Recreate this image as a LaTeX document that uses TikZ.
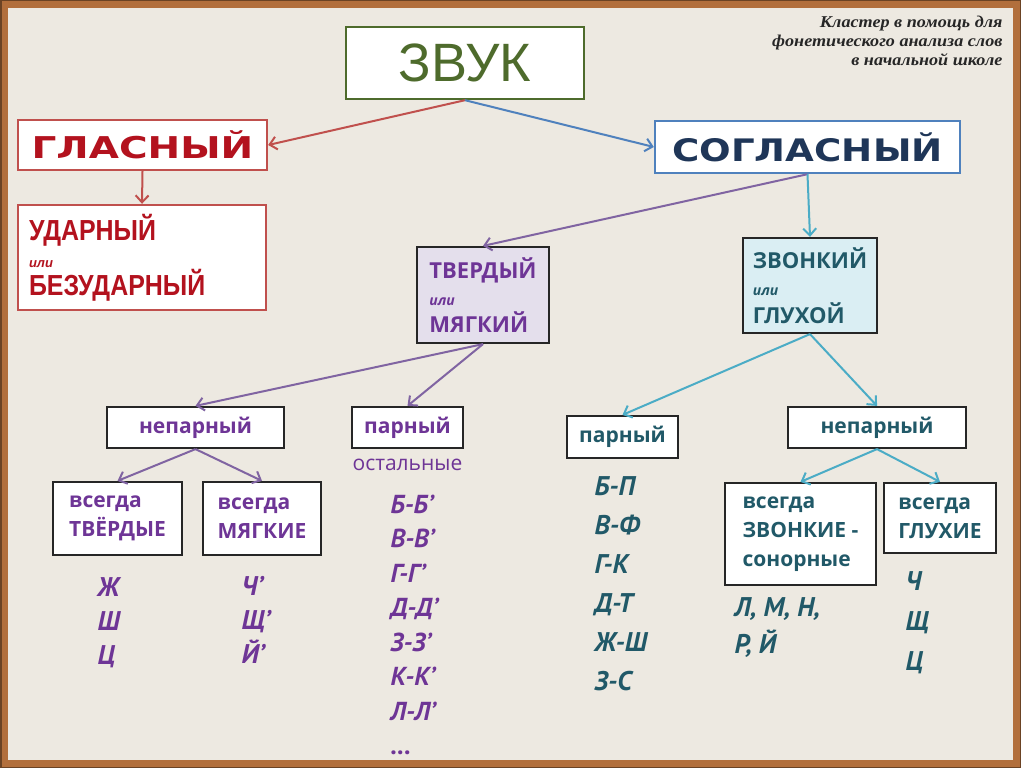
\documentclass[tikz,border=0pt]{standalone}
\usepackage{fontspec}
\usetikzlibrary{arrows.meta}
\setmainfont{Liberation Sans}
\newfontfamily\boxfont{Open Sans}
\newfontfamily\widefont{DejaVu Sans}
\newfontfamily\handfont{PT Sans}
\newfontfamily\notefont{Liberation Serif}

\definecolor{paper}{HTML}{EDE9E1}
\definecolor{frame}{HTML}{B26F3C}
\definecolor{zvukgreen}{HTML}{4E6B2C}
\definecolor{redline}{HTML}{C0504D}
\definecolor{redtext}{HTML}{B3121E}
\definecolor{blueline}{HTML}{4F81BD}
\definecolor{navy}{HTML}{1F3658}
\definecolor{purpline}{HTML}{8064A2}
\definecolor{purptext}{HTML}{6E3596}
\definecolor{lav}{HTML}{E4DFEC}
\definecolor{teal}{HTML}{4BACC6}
\definecolor{tealtext}{HTML}{215968}
\definecolor{ltblue}{HTML}{DAEEF3}

\newcommand\sx[2]{\scalebox{#1}[1]{#2}}
\newcommand\ili[1]{{\fontsize{#1}{10}\selectfont\bfseries\itshape или}}

\begin{document}
\begin{tikzpicture}[x=1pt,y=-1pt]
        \useasboundingbox (0,0) rectangle (1021,768);
        \fill[paper] (0,0) rectangle (1021,768);
        \draw[frame, line width=8pt] (4,4) rectangle (1017,764);
        \draw[frame!60!black, line width=1.5pt] (0.75,0.75) rectangle (1020.25,767.25);

        % top note
        \node[anchor=east, align=right, text=black!85,
              font=\notefont\bfseries\itshape\fontsize{16.5}{19}\selectfont] (note) at (1006,41)
          {\sx{1.1}{Кластер в помощь для}\\\sx{1.1}{фонетического анализа слов}\\\sx{1.1}{в начальной школе}};

        \begin{scope}[every node/.style={rectangle, draw, fill=white, inner sep=0pt, line width=2.4pt}]
          \node[draw=zvukgreen, minimum width=238pt, minimum height=72pt, text=zvukgreen,
                font=\fontsize{54}{54}\selectfont] (zvuk) at (465,63) {ЗВУК};
          \node[draw=redline, minimum width=249pt, minimum height=50pt, text=redtext,
                font=\widefont\bfseries\fontsize{30}{30}\selectfont] (glas) at (142.5,145) {\sx{1.3}{ГЛАСНЫЙ}};
          \node[draw=redline, minimum width=248pt, minimum height=105pt, text=redtext, align=left,
                inner xsep=11pt, text width=226pt,
                font=\bfseries\fontsize{29}{27.5}\selectfont] (udar) at (142,257.5)
            {\sx{0.86}{УДАРНЫЙ}\\ \ili{13}\\ \sx{0.86}{БЕЗУДАРНЫЙ}};
          \node[draw=blueline, minimum width=305pt, minimum height=52pt, text=navy,
                font=\widefont\bfseries\fontsize{31}{31}\selectfont] (sogl) at (807.5,147) {\sx{1.2}{СОГЛАСНЫЙ}};
        \end{scope}

        \begin{scope}[every node/.style={rectangle, draw=black!85, fill=white, inner sep=0pt, line width=2.2pt,
                        font=\boxfont\bfseries\fontsize{21}{29}\selectfont, align=left}]
          \node[fill=lav, text=purptext, minimum width=132pt, minimum height=96pt,
                font=\boxfont\bfseries\fontsize{22}{27}\selectfont] (tverd) at (483,295)
            {ТВЕРДЫЙ\\ \ili{14}\\ МЯГКИЙ};
          \node[fill=ltblue, text=tealtext, minimum width=134pt, minimum height=95pt,
                font=\boxfont\bfseries\fontsize{22}{27.5}\selectfont] (zvon) at (810,285.5)
            {ЗВОНКИЙ\\ \ili{14}\\ ГЛУХОЙ};

          \node[text=purptext, minimum width=177pt, minimum height=41pt] (nep1) at (195.5,427.5) {непарный};
          \node[text=purptext, minimum width=111pt, minimum height=41pt] (par1) at (407.5,427.5) {парный};
          \node[text=tealtext, minimum width=111pt, minimum height=42pt] (par2) at (622.5,437) {парный};
          \node[text=tealtext, minimum width=178pt, minimum height=41pt] (nep2) at (877,427.5) {непарный};

          \node[text=purptext, minimum width=129pt, minimum height=73pt] (tv) at (117.5,518.5) {всегда\\ТВЁРДЫЕ};
          \node[text=purptext, minimum width=118pt, minimum height=73pt] (mg) at (262,518.5) {всегда\\МЯГКИЕ};
          \node[text=tealtext, minimum width=151pt, minimum height=102pt] (zv) at (800.5,534) {всегда\\ЗВОНКИЕ -\\сонорные};
          \node[text=tealtext, minimum width=112pt, minimum height=70pt] (gl) at (940,518) {всегда\\ГЛУХИЕ};
        \end{scope}

        \node[text=purptext, font=\boxfont\fontsize{21}{21}\selectfont] (ost) at (407.5,465) {остальные};

        % handwritten letters
        \begin{scope}[every node/.style={anchor=west, align=left, font=\handfont\bfseries\itshape\fontsize{27}{34}\selectfont}]
          \node[text=purptext] (hard) at (94,623) {Ж\\Ш\\Ц};
          \node[text=purptext] (soft) at (238,620) {Ч’\\Щ’\\Й’};
          \node[text=purptext, font=\handfont\bfseries\itshape\fontsize{26}{34.5}\selectfont] (pairs1) at (387,625) {Б-Б’\\В-В’\\Г-Г’\\Д-Д’\\З-З’\\К-К’\\Л-Л’\\...};
          \node[text=tealtext, font=\handfont\bfseries\itshape\fontsize{27}{39}\selectfont] (pairs2) at (591,584) {Б-П\\В-Ф\\Г-К\\Д-Т\\Ж-Ш\\З-С};
          \node[text=tealtext, font=\handfont\bfseries\itshape\fontsize{27}{37}\selectfont] (son) at (731,628) {Л, М, Н,\\Р, Й};
          \node[text=tealtext, font=\handfont\bfseries\itshape\fontsize{27}{40}\selectfont] (deaf) at (902,623) {Ч\\Щ\\Ц};
        \end{scope}

        \begin{scope}[every edge/.style={draw, line width=2pt, -{Straight Barb[length=7pt,width=13pt]}}]
          \path (zvuk.south) edge[redline] (glas.east);
          \path (zvuk.south) edge[blueline] (sogl.west);
          \path (glas.south) edge[redline] (udar.north);
          \path (sogl.south) edge[purpline] (tverd.north);
          \path (sogl.south) edge[teal] (zvon.north);
          \path (tverd.south) edge[purpline] (nep1.north);
          \path (tverd.south) edge[purpline] (par1.north);
          \path (nep1.south) edge[purpline] (tv.north);
          \path (nep1.south) edge[purpline] (mg.north);
          \path (zvon.south) edge[teal] (par2.north);
          \path (zvon.south) edge[teal] (nep2.north);
          \path (nep2.south) edge[teal] (zv.north);
          \path (nep2.south) edge[teal] (gl.north);
        \end{scope}

      \end{tikzpicture}
\end{document}
